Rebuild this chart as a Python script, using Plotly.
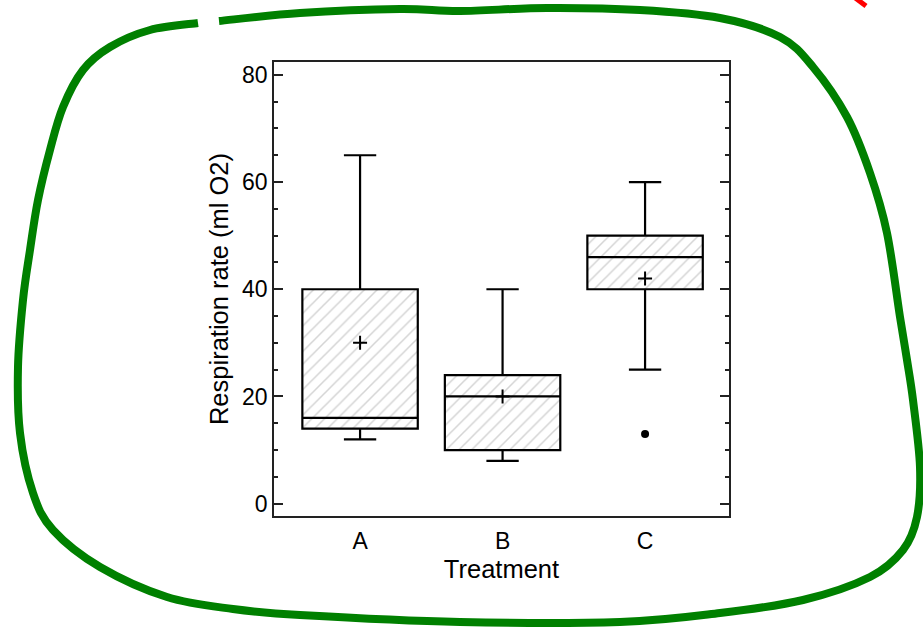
import plotly.graph_objects as go

# ---- data -------------------------------------------------------------
treatments = ["A", "B", "C"]
lower_whisker = [12, 8, 25]
q1 = [14, 10, 40]
median = [16, 20, 46]
q3 = [40, 24, 50]
upper_whisker = [65, 40, 60]
means = [30, 20, 42]
outlier_group = ["C"]
outlier_values = [13]

y_ticks = [0, 20, 40, 60, 80]

# ---- geometry / style ---------------------------------------------------
FONT = "Liberation Sans, Arial, Helvetica, sans-serif"
BOX_WIDTH = 0.81
positions = list(range(len(treatments)))
pos_of = {t: p for t, p in zip(treatments, positions)}

W, H = 923, 628
PLOT_L, PLOT_R, PLOT_T, PLOT_B = 274, 729, 62, 516

fig = go.Figure()

# hatched fill of each box: a floating bar from Q1 to Q3 (bar layer sits
# below the box layer, so outlines and medians stay on top)
fig.add_trace(go.Bar(
    x=positions, base=q1, y=[hi - lo for lo, hi in zip(q1, q3)],
    width=BOX_WIDTH,
    marker=dict(color="white", line=dict(width=0),
                pattern=dict(shape="/", size=9, solidity=0.17,
                             fgcolor="#aaaaaa", bgcolor="white")),
    hoverinfo="skip", showlegend=False,
))

# box outlines, medians and whiskers
fig.add_trace(go.Box(
    x=positions, q1=q1, median=median, q3=q3,
    lowerfence=lower_whisker, upperfence=upper_whisker,
    width=BOX_WIDTH, whiskerwidth=0.28,
    fillcolor="rgba(0,0,0,0)",
    line=dict(color="black", width=2.2),
    boxpoints=False, showlegend=False,
))

# means
fig.add_trace(go.Scatter(
    x=positions, y=means, mode="markers",
    marker=dict(symbol="cross-thin", size=10,
                line=dict(color="black", width=2)),
    showlegend=False,
))

# outliers
fig.add_trace(go.Scatter(
    x=[pos_of[g] for g in outlier_group], y=outlier_values, mode="markers",
    marker=dict(symbol="circle", size=8, color="black"),
    showlegend=False,
))

# ---- hand-drawn green loop around the chart ----------------------------
def to_paper(px, py):
    return ((px - PLOT_L) / (PLOT_R - PLOT_L), (PLOT_B - py) / (PLOT_B - PLOT_T))


def smooth_path(pts):
    """Open Catmull-Rom spline through pixel points, as an SVG path in paper units."""
    P = [to_paper(*p) for p in pts]
    ext = [P[0]] + P + [P[-1]]
    d = "M {:.5f},{:.5f}".format(*P[0])
    for i in range(1, len(ext) - 2):
        p0, p1, p2, p3 = ext[i - 1], ext[i], ext[i + 1], ext[i + 2]
        c1 = (p1[0] + (p2[0] - p0[0]) / 6, p1[1] + (p2[1] - p0[1]) / 6)
        c2 = (p2[0] - (p3[0] - p1[0]) / 6, p2[1] - (p3[1] - p1[1]) / 6)
        d += " C {:.5f},{:.5f} {:.5f},{:.5f} {:.5f},{:.5f}".format(*c1, *c2, *p2)
    return d


loop_pts = [
    (219, 21), (300, 13), (400, 9), (460, 11), (547, 8), (640, 10),
    (720, 18), (780, 37), (813, 67), (847, 117), (870, 173), (887, 233),
    (900, 317), (907, 360), (913, 400), (920, 467), (917, 517), (903, 550),
    (870, 577), (803, 600), (720, 613), (620, 622), (460, 622), (300, 615),
    (233, 609), (167, 597), (100, 567), (53, 530), (33, 493), (20, 433),
    (18, 367), (23, 300), (30, 250), (38, 200), (50, 150), (63, 107),
    (83, 70), (110, 47), (150, 30), (198, 23),
]

shapes = [
    dict(type="path", xref="paper", yref="paper", path=smooth_path(loop_pts),
         line=dict(color="#008000", width=8), layer="above"),
]
r0 = to_paper(850, -6)
r1 = to_paper(866, 6)
shapes.append(dict(type="line", xref="paper", yref="paper",
                   x0=r0[0], y0=r0[1], x1=r1[0], y1=r1[1],
                   line=dict(color="red", width=5)))

fig.update_layout(
    width=W, height=H,
    margin=dict(l=PLOT_L, r=W - PLOT_R, t=PLOT_T, b=H - PLOT_B, pad=0),
    paper_bgcolor="white", plot_bgcolor="white",
    font=dict(family=FONT, size=22, color="black"),
    shapes=shapes,
    showlegend=False,
    bargap=0,
)

fig.update_xaxes(
    range=[-0.604, 2.589],
    tickmode="array", tickvals=positions, ticktext=treatments,
    ticks="", showgrid=False, zeroline=False,
    showline=True, linecolor="#222", linewidth=1.5, mirror=True,
    tickfont=dict(size=23), ticklabelstandoff=4,
    title=dict(text="Treatment", font=dict(size=25.5), standoff=7),
)
fig.update_yaxes(
    range=[-2.3, 82.4],
    tickmode="array", tickvals=y_ticks,
    ticks="inside", ticklen=9, tickwidth=1.5, tickcolor="#222",
    minor=dict(dtick=5, tick0=0, ticks="inside", ticklen=4,
               tickwidth=1.5, tickcolor="#222", showgrid=False),
    showgrid=False, zeroline=False,
    showline=True, linecolor="#222", linewidth=1.5, mirror="ticks",
    tickfont=dict(size=23),
    title=dict(text="Respiration rate (ml O2)", font=dict(size=25.5), standoff=6),
)

fig.write_html("out.html")
